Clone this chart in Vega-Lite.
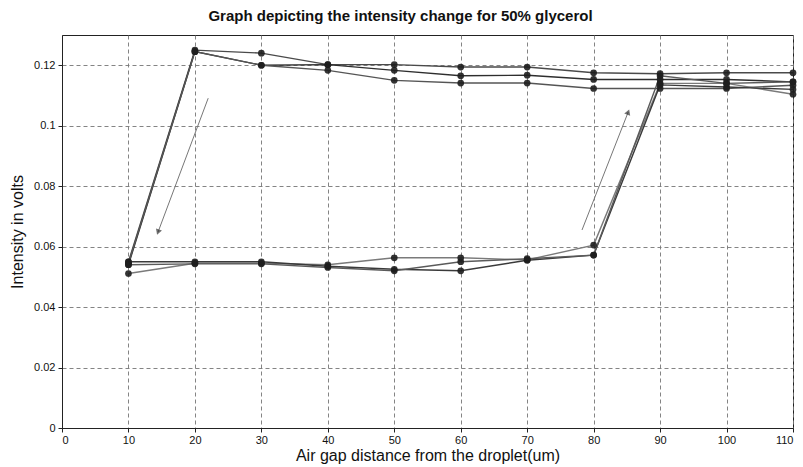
{
  "$schema": "https://vega.github.io/schema/vega-lite/v6.json",
  "width": 731,
  "height": 393,
  "autosize": {"type": "none"},
  "padding": {"left": 62, "top": 35, "right": 10, "bottom": 39},
  "background": "white",
  "title": {"text": "Graph depicting the intensity change  for 50% glycerol", "font": "Liberation Sans", "fontSize": 15, "fontWeight": "bold", "color": "#111", "offset": 11, "dx": -27},
  "config": {
    "view": {"stroke": "#222", "strokeWidth": 1},
    "axis": {"labelFont": "Liberation Sans", "titleFont": "Liberation Sans", "labelColor": "#111", "titleColor": "#111", "labelFontSize": 11, "titleFontSize": 16, "titleFontWeight": "normal", "grid": true, "gridColor": "#777", "gridDash": [4, 3], "gridOpacity": 0.9, "domainColor": "#222", "tickColor": "#222", "tickSize": 4}
  },
  "datasets": {
    "runs": [
      {"series": "D1", "x": 10, "y": 0.055}, {"series": "D1", "x": 20, "y": 0.125}, {"series": "D1", "x": 30, "y": 0.124}, {"series": "D1", "x": 40, "y": 0.1202}, {"series": "D1", "x": 50, "y": 0.1202}, {"series": "D1", "x": 60, "y": 0.1194}, {"series": "D1", "x": 70, "y": 0.1194}, {"series": "D1", "x": 80, "y": 0.1175}, {"series": "D1", "x": 90, "y": 0.1172}, {"series": "D1", "x": 100, "y": 0.1175}, {"series": "D1", "x": 110, "y": 0.1175},
      {"series": "D2", "x": 10, "y": 0.054}, {"series": "D2", "x": 20, "y": 0.1245}, {"series": "D2", "x": 30, "y": 0.120}, {"series": "D2", "x": 40, "y": 0.1202}, {"series": "D2", "x": 50, "y": 0.1183}, {"series": "D2", "x": 60, "y": 0.1165}, {"series": "D2", "x": 70, "y": 0.1167}, {"series": "D2", "x": 80, "y": 0.1153}, {"series": "D2", "x": 90, "y": 0.1153}, {"series": "D2", "x": 100, "y": 0.1153}, {"series": "D2", "x": 110, "y": 0.1145},
      {"series": "D3", "x": 10, "y": 0.0545}, {"series": "D3", "x": 20, "y": 0.1245}, {"series": "D3", "x": 30, "y": 0.120}, {"series": "D3", "x": 40, "y": 0.1183}, {"series": "D3", "x": 50, "y": 0.115}, {"series": "D3", "x": 60, "y": 0.1141}, {"series": "D3", "x": 70, "y": 0.1141}, {"series": "D3", "x": 80, "y": 0.1123}, {"series": "D3", "x": 90, "y": 0.1123}, {"series": "D3", "x": 100, "y": 0.1123}, {"series": "D3", "x": 110, "y": 0.1134},
      {"series": "U1", "x": 10, "y": 0.0511}, {"series": "U1", "x": 20, "y": 0.0545}, {"series": "U1", "x": 30, "y": 0.0545}, {"series": "U1", "x": 40, "y": 0.054}, {"series": "U1", "x": 50, "y": 0.0563}, {"series": "U1", "x": 60, "y": 0.0563}, {"series": "U1", "x": 70, "y": 0.0556}, {"series": "U1", "x": 80, "y": 0.0605}, {"series": "U1", "x": 90, "y": 0.114}, {"series": "U1", "x": 100, "y": 0.114}, {"series": "U1", "x": 110, "y": 0.1104},
      {"series": "U2", "x": 10, "y": 0.055}, {"series": "U2", "x": 20, "y": 0.055}, {"series": "U2", "x": 30, "y": 0.055}, {"series": "U2", "x": 40, "y": 0.0535}, {"series": "U2", "x": 50, "y": 0.0525}, {"series": "U2", "x": 60, "y": 0.052}, {"series": "U2", "x": 70, "y": 0.0555}, {"series": "U2", "x": 80, "y": 0.0572}, {"series": "U2", "x": 90, "y": 0.1135}, {"series": "U2", "x": 100, "y": 0.1128}, {"series": "U2", "x": 110, "y": 0.112},
      {"series": "U3", "x": 10, "y": 0.054}, {"series": "U3", "x": 20, "y": 0.0543}, {"series": "U3", "x": 30, "y": 0.0543}, {"series": "U3", "x": 40, "y": 0.0531}, {"series": "U3", "x": 50, "y": 0.052}, {"series": "U3", "x": 60, "y": 0.055}, {"series": "U3", "x": 70, "y": 0.056}, {"series": "U3", "x": 80, "y": 0.0572}, {"series": "U3", "x": 90, "y": 0.1165}, {"series": "U3", "x": 100, "y": 0.114}, {"series": "U3", "x": 110, "y": 0.1145}
    ],
    "arrows": [
      {"arrow": "down", "x": 22.0, "y": 0.1091, "x2": 14.45, "y2": 0.0648},
      {"arrow": "up", "x": 78.25, "y": 0.0655, "x2": 85.2, "y2": 0.1045}
    ]
  },
  "layer": [
    {
      "data": {"name": "runs"},
      "mark": {"type": "line", "strokeWidth": 1.4},
      "encoding": {
        "x": {"field": "x", "type": "quantitative", "scale": {"domain": [0, 110], "nice": false}, "axis": {"values": [0, 10, 20, 30, 40, 50, 60, 70, 80, 90, 100, 110], "title": "Air gap distance from the droplet(um)", "titlePadding": 2, "labelPadding": 2}},
        "y": {"field": "y", "type": "quantitative", "scale": {"domain": [0, 0.13], "nice": false}, "axis": {"values": [0, 0.02, 0.04, 0.06, 0.08, 0.1, 0.12], "format": "~g", "title": "Intensity in volts", "titlePadding": 8, "labelPadding": 3}},
        "color": {"field": "series", "type": "nominal", "legend": null, "scale": {"domain": ["D1", "D2", "D3", "U1", "U2", "U3"], "range": ["#4a4a4a", "#2e2e2e", "#555", "#7a7a7a", "#3a3a3a", "#5a5a5a"]}},
        "order": {"field": "x", "type": "quantitative"}
      }
    },
    {
      "data": {"name": "runs"},
      "mark": {"type": "point", "shape": "circle", "filled": true, "size": 45, "color": "#1e1e1e", "opacity": 0.9},
      "encoding": {
        "x": {"field": "x", "type": "quantitative"},
        "y": {"field": "y", "type": "quantitative"}
      }
    },
    {
      "data": {"name": "arrows"},
      "mark": {"type": "rule", "color": "#777", "strokeWidth": 1},
      "encoding": {
        "x": {"field": "x", "type": "quantitative"},
        "y": {"field": "y", "type": "quantitative"},
        "x2": {"field": "x2"},
        "y2": {"field": "y2"}
      }
    },
    {
      "data": {"name": "arrows"},
      "transform": [{"filter": "datum.arrow == 'down'"}],
      "mark": {"type": "point", "shape": "triangle-up", "filled": true, "size": 40, "color": "#333", "angle": 200},
      "encoding": {
        "x": {"field": "x2", "type": "quantitative"},
        "y": {"field": "y2", "type": "quantitative"}
      }
    },
    {
      "data": {"name": "arrows"},
      "transform": [{"filter": "datum.arrow == 'up'"}],
      "mark": {"type": "point", "shape": "triangle-up", "filled": true, "size": 40, "color": "#333", "angle": 21},
      "encoding": {
        "x": {"field": "x2", "type": "quantitative"},
        "y": {"field": "y2", "type": "quantitative"}
      }
    }
  ]
}
